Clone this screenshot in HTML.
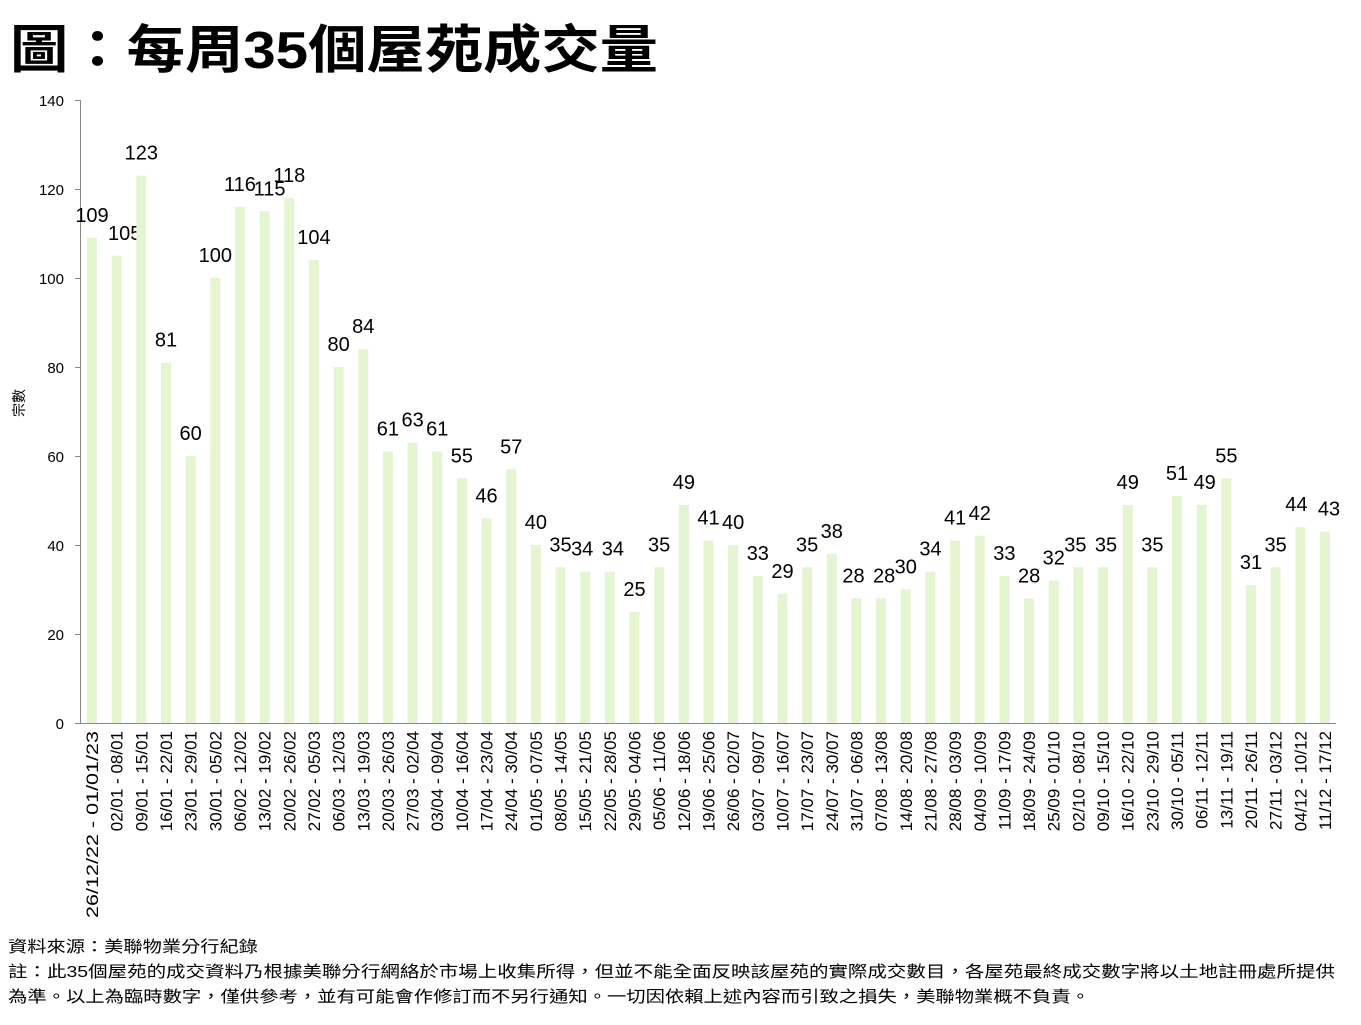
<!DOCTYPE html>
<html><head><meta charset="utf-8"><style>
body{margin:0;background:#fff;width:1361px;height:1020px;overflow:hidden;font-family:"Liberation Sans","Noto Sans CJK TC",sans-serif}
</style></head><body>
<svg width="1361" height="1020" xmlns="http://www.w3.org/2000/svg" font-family="Liberation Sans, Noto Sans CJK TC, sans-serif">
<text x="10" y="68" font-size="52" font-weight="bold" fill="#000" textLength="648" lengthAdjust="spacingAndGlyphs">圖：每周35個屋苑成交量</text>
<text transform="translate(24,403) rotate(-90)" font-size="14" text-anchor="middle">宗數</text>
<g id="c"></g>
<text x="8" y="952" font-size="16" textLength="250" lengthAdjust="spacingAndGlyphs">資料來源：美聯物業分行紀錄</text>
<text x="8" y="977" font-size="16" textLength="1327" lengthAdjust="spacingAndGlyphs">註：此35個屋苑的成交資料乃根據美聯分行網絡於市場上收集所得，但並不能全面反映該屋苑的實際成交數目，各屋苑最終成交數字將以土地註冊處所提供</text>
<text x="8" y="1002" font-size="16" textLength="1082" lengthAdjust="spacingAndGlyphs">為準。以上為臨時數字，僅供參考，並有可能會作修訂而不另行通知。一切因依賴上述內容而引致之損失，美聯物業概不負責。</text>
</svg>
<script>
var d=[109,105,123,81,60,100,116,115,118,104,80,84,61,63,61,55,46,57,40,35,34,34,25,35,49,41,40,33,29,35,38,28,28,30,34,41,42,33,28,32,35,35,49,35,51,49,55,31,35,44,43];
var L="26/12/22 - 01/01/23,02/01 - 08/01,09/01 - 15/01,16/01 - 22/01,23/01 - 29/01,30/01 - 05/02,06/02 - 12/02,13/02 - 19/02,20/02 - 26/02,27/02 - 05/03,06/03 - 12/03,13/03 - 19/03,20/03 - 26/03,27/03 - 02/04,03/04 - 09/04,10/04 - 16/04,17/04 - 23/04,24/04 - 30/04,01/05 - 07/05,08/05 - 14/05,15/05 - 21/05,22/05 - 28/05,29/05 - 04/06,05/06 - 11/06,12/06 - 18/06,19/06 - 25/06,26/06 - 02/07,03/07 - 09/07,10/07 - 16/07,17/07 - 23/07,24/07 - 30/07,31/07 - 06/08,07/08 - 13/08,14/08 - 20/08,21/08 - 27/08,28/08 - 03/09,04/09 - 10/09,11/09 - 17/09,18/09 - 24/09,25/09 - 01/10,02/10 - 08/10,09/10 - 15/10,16/10 - 22/10,23/10 - 29/10,30/10 - 05/11,06/11 - 12/11,13/11 - 19/11,20/11 - 26/11,27/11 - 03/12,04/12 - 10/12,11/12 - 17/12".split(",");
var dx={1:8,6:0,7:5,13:0,20:-3,21:3,31:-3,32:3,35:0,40:-3,41:3,44:0,45:3,49:-4,50:4};
var s='';
s+='<line x1="80.5" y1="100" x2="80.5" y2="723" stroke="#888"/>';
s+='<line x1="80" y1="723.5" x2="1336" y2="723.5" stroke="#888"/>';
for(var v=0;v<=140;v+=20){var y=723-v*4.45;s+='<line x1="75" x2="80" y1="'+(y+.5)+'" y2="'+(y+.5)+'" stroke="#888"/><text x="64" y="'+(y+6)+'" font-size="15" text-anchor="end">'+v+'</text>';}
for(var i=0;i<d.length;i++){var cx=92+i*24.66,t=723-d[i]*4.45;
s+='<rect x="'+(cx-5)+'" y="'+t+'" width="10" height="'+(723-t)+'" fill="#e3f5d1"/>';
s+='<text x="'+(cx+(dx[i]||0))+'" y="'+(t-16)+'" font-size="20" text-anchor="middle">'+d[i]+'</text>';
s+='<text transform="translate('+(cx+6)+',731) rotate(-90)" font-size="17" text-anchor="end"'+(i==0?' textLength="187" lengthAdjust="spacingAndGlyphs"':'')+'>'+L[i]+'</text>';}
document.getElementById('c').innerHTML=s;
</script>
</body></html>
